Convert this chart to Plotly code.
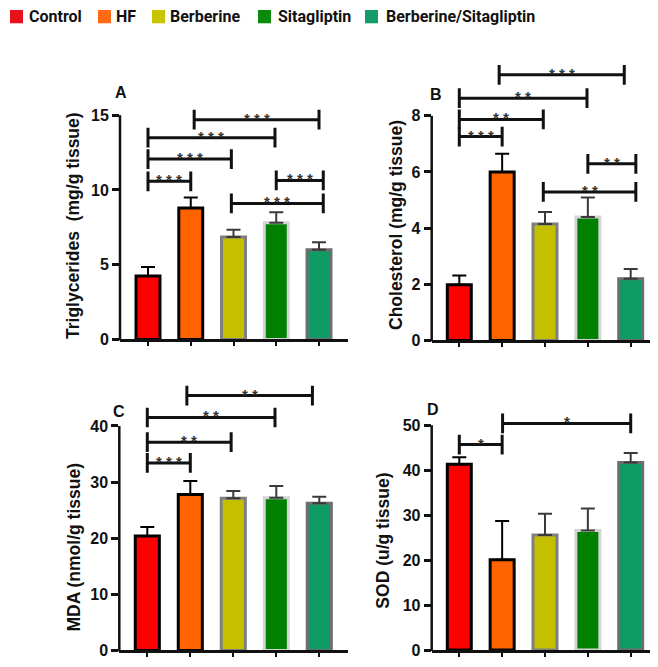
import plotly.graph_objects as go

# the page body has an 8px margin; design coordinates are given in window pixels
OFF = 8
W, H = 650, 659

# ---------------- data ----------------
groups = ["Control", "HF", "Berberine", "Sitagliptin", "Berberine/Sitagliptin"]

tg_mean = [4.25, 8.8, 6.85, 7.8, 6.0]
tg_sem = [0.6, 0.7, 0.48, 0.7, 0.5]
tg_ticks = [0, 5, 10, 15]
tg_sig = [(0, 1, 10.58, "***"), (0, 1.95, 12.07, "***"), (0, 2.97, 13.5, "***"),
          (1.08, 4.0, 14.7, "***"), (3.0, 4.1, 10.64, "***"), (1.95, 4.1, 9.1, "***")]

chol_mean = [1.98, 6.0, 4.15, 4.4, 2.2]
chol_sem = [0.33, 0.65, 0.42, 0.69, 0.34]
chol_ticks = [0, 2, 4, 6, 8]
chol_sig = [(0, 1, 7.26, "***"), (0, 1.96, 7.87, "**"), (0, 2.98, 8.63, "**"),
            (0.93, 3.85, 9.46, "***"), (3.0, 4.12, 6.29, "**"), (1.96, 4.12, 5.29, "**")]

mda_mean = [20.4, 27.8, 27.1, 27.2, 26.2]
mda_sem = [1.6, 2.4, 1.3, 2.1, 1.2]
mda_ticks = [0, 10, 20, 30, 40]
mda_sig = [(0, 1, 33.4, "***"), (0, 1.95, 37.1, "**"), (0, 2.97, 41.5, "**"),
           (0.92, 3.84, 45.4, "**")]

sod_mean = [41.3, 20.1, 25.6, 26.6, 41.7]
sod_sem = [1.6, 8.6, 4.7, 4.9, 2.1]
sod_ticks = [0, 10, 20, 30, 40, 50]
sod_sig = [(0, 1, 45.7, "*"), (1.01, 4.0, 50.4, "*")]

# ---------------- style ----------------
fill_colors = ["#FF0000", "#FF6400", "#C4C000", "#008000", "#0E9C64"]
outline_colors = ["#000000", "#000000", "#7F7F7F", "#D4D4D4", "#6E6E6E"]
err_colors = ["#000000", "#000000", "#3A3A3A", "#3A3A3A", "#3A3A3A"]
legend_fill = ["#E8101A", "#FF6A13", "#C8C400", "#0B8A0B", "#159A6A"]
FONT = "Arial"


def px_x(px):
    return (px - OFF) / W


def px_y(py):
    return 1 - (py - OFF) / H


panels = [
    dict(letter="A", n="", xl=120, xr=348, c0=148, sp=42.75, y0=344, ppu=15.153, ytop=50,
         mean=tg_mean, sem=tg_sem, ticks=tg_ticks, sig=tg_sig,
         title="Triglycerides  (mg/g tissue)", title_xy=(73, 229), letter_xy=(121, 94)),
    dict(letter="B", n="2", xl=431.7, xr=658, c0=459.3, sp=42.85, y0=345, ppu=28.46, ytop=50,
         mean=chol_mean, sem=chol_sem, ticks=chol_ticks, sig=chol_sig,
         title="Cholesterol (mg/g tissue)", title_xy=(396, 228), letter_xy=(436, 96)),
    dict(letter="C", n="3", xl=119.3, xr=348.3, c0=147.3, sp=43, y0=659.3, ppu=5.69, ytop=370,
         mean=mda_mean, sem=mda_sem, ticks=mda_ticks, sig=mda_sig,
         title="MDA (nmol/g tissue)", title_xy=(74, 555), letter_xy=(119, 417)),
    dict(letter="D", n="4", xl=431.7, xr=658, c0=459.3, sp=42.85, y0=659, ppu=4.56, ytop=370,
         mean=sod_mean, sem=sod_sem, ticks=sod_ticks, sig=sod_sig,
         title="SOD (u/g tissue)", title_xy=(383, 548), letter_xy=(433, 415)),
]

fig = go.Figure()
shapes = []
annotations = []
layout = {}

tick_font = dict(family=FONT, size=16, color="#111", weight="bold")

for p in panels:
    xa, ya = "x" + p["n"], "y" + p["n"]
    for i, g in enumerate(groups):
        fig.add_trace(go.Bar(
            x=[i], y=[p["mean"][i]], width=[0.56], name=g, showlegend=False,
            xaxis=xa, yaxis=ya,
            marker=dict(color=fill_colors[i], line=dict(color=outline_colors[i], width=3)),
            error_y=dict(type="data", symmetric=False, array=[p["sem"][i]], arrayminus=[0],
                         color=err_colors[i], thickness=2, width=7),
        ))
    xrange = [(p["xl"] - p["c0"]) / p["sp"], (p["xr"] - p["c0"]) / p["sp"]]
    yrange = [0, (p["y0"] - p["ytop"]) / p["ppu"]]
    layout["xaxis" + p["n"]] = dict(
        domain=[px_x(p["xl"]), min(px_x(p["xr"]), 1.0)], range=xrange, anchor=ya,
        showline=True, linecolor="#111", linewidth=2.5, tickvals=list(range(5)),
        ticks="outside", ticklen=4, tickwidth=1.5, tickcolor="#111",
        showticklabels=False, showgrid=False, zeroline=False, fixedrange=True)
    layout["yaxis" + p["n"]] = dict(
        domain=[px_y(p["y0"]), px_y(p["ytop"])], range=yrange, anchor=xa,
        showline=False, tickvals=p["ticks"], ticks="outside", ticklen=7, tickwidth=2.5,
        tickcolor="#111", tickfont=tick_font, showgrid=False, zeroline=False, fixedrange=True)
    # y axis line from 0 to top tick
    shapes.append(dict(type="line", xref="paper", yref="paper",
                       x0=px_x(p["xl"]), x1=px_x(p["xl"]),
                       y0=px_y(p["y0"] + 1),
                       y1=px_y(p["y0"] - max(p["ticks"]) * p["ppu"]),
                       line=dict(color="#111", width=2.5)))
    cap = 10 / p["ppu"]
    for (a, b, yv, lab) in p["sig"]:
        for (x0, x1, y0, y1) in [(a, b, yv, yv), (a, a, yv - cap, yv + cap), (b, b, yv - cap, yv + cap)]:
            shapes.append(dict(type="line", xref=xa, yref=ya, x0=x0, x1=x1, y0=y0, y1=y1,
                               line=dict(color="#111", width=3)))
        annotations.append(dict(x=(a + b) / 2, y=yv, xref=xa, yref=ya, text=" ".join(lab),
                                showarrow=False, xanchor="center", yanchor="bottom", yshift=-9,
                                font=dict(family=FONT, size=15, color="#333", weight="bold")))
    annotations.append(dict(x=px_x(p["title_xy"][0]), y=px_y(p["title_xy"][1]), xref="paper", yref="paper",
                            text=p["title"], textangle=-90, showarrow=False,
                            xanchor="center", yanchor="middle",
                            font=dict(family=FONT, size=17.5, color="#111", weight="bold")))
    annotations.append(dict(x=px_x(p["letter_xy"][0]), y=px_y(p["letter_xy"][1]), xref="paper", yref="paper",
                            text=p["letter"], showarrow=False, xanchor="center", yanchor="middle",
                            font=dict(family=FONT, size=16, color="#111", weight="bold")))

# legend (manual)
leg_sq_x = [10, 98, 152, 258, 365]
leg_tx_x = [27, 114, 168, 276, 384]
for i, g in enumerate(groups):
    shapes.append(dict(type="rect", xref="paper", yref="paper",
                       x0=px_x(leg_sq_x[i]), x1=px_x(leg_sq_x[i] + 13),
                       y0=px_y(23.5), y1=px_y(10), line=dict(width=0),
                       fillcolor=legend_fill[i]))
    annotations.append(dict(x=px_x(leg_tx_x[i]), y=px_y(17), xref="paper", yref="paper",
                            text=g, showarrow=False, xanchor="left", yanchor="middle",
                            font=dict(family="Roboto", size=16, color="#111", weight="bold")))

fig.update_layout(width=W, height=H, margin=dict(l=0, r=0, t=0, b=0),
                  paper_bgcolor="white", plot_bgcolor="white", showlegend=False,
                  barmode="overlay", shapes=shapes, annotations=annotations, **layout)

fig.write_html("out.html")
